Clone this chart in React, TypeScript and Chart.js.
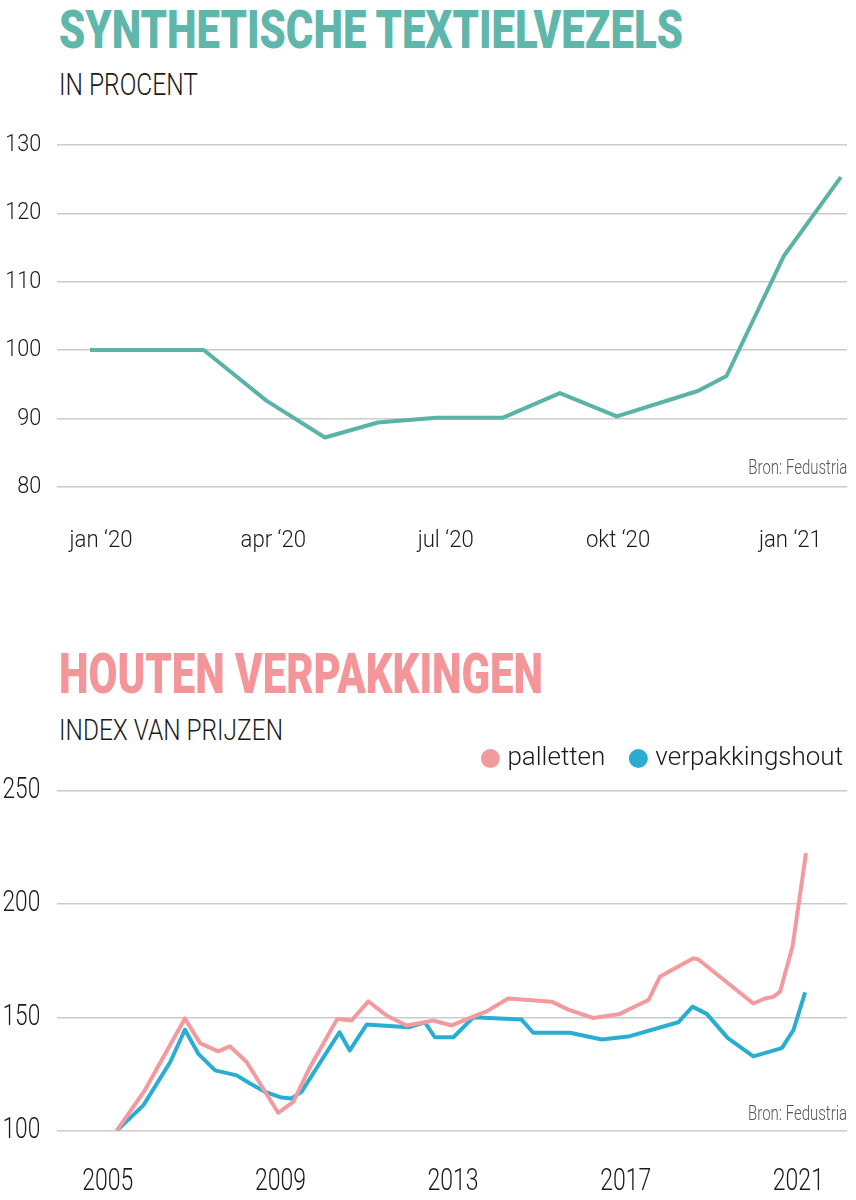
import React, { useEffect, useLayoutEffect, useRef } from "react";
import { Chart, registerables } from "chart.js";

Chart.register(...registerables);

// ---------- data: synthetische textielvezels ----------
const textileMonths = [0, 1.98, 3.07, 4.09, 5.01, 6.03, 7.19, 8.18, 9.17, 10.58, 11.08, 12.08, 13.07];
const textileValues = [100, 100, 92.6, 87.2, 89.4, 90.1, 90.1, 93.7, 90.3, 94.0, 96.2, 113.8, 125.3];
const textileTickMonths = [0, 3, 6, 9, 12];
const textileTickLabels = ["jan \u201820", "apr \u201820", "jul \u201820", "okt \u201820", "jan \u201821"];
const textileYTicks = [80, 90, 100, 110, 120, 130];

// ---------- data: houten verpakkingen ----------
const palletYears = [
  2005.01, 2005.66, 2006.59, 2006.94, 2007.36, 2007.63, 2008.02, 2008.75, 2009.1, 2009.49,
  2010.12, 2010.45, 2010.84, 2011.27, 2011.73, 2012.15, 2012.34, 2012.77, 2013.27, 2013.58,
  2014.08, 2015.09, 2015.47, 2016.05, 2016.67, 2016.98, 2017.33, 2017.6, 2018.37, 2018.48,
  2019.76, 2020.03, 2020.22, 2020.38, 2020.67, 2020.98,
];
const palletValues = [
  100, 117.8, 149.5, 138.6, 135, 137.2, 130.3, 107.9, 112.7, 128.1,
  149.3, 148.6, 157, 150.7, 146.4, 147.8, 148.6, 146.4, 150.3, 152.6,
  158.3, 156.9, 153.4, 149.7, 151.5, 154.4, 157.6, 168, 176, 175.6,
  156.1, 158.3, 159, 161.3, 181.4, 222.4,
];
const woodYears = [
  2005.01, 2005.63, 2006.25, 2006.59, 2006.9, 2007.29, 2007.79, 2008.1, 2008.45, 2008.83,
  2009.06, 2009.29, 2010.17, 2010.41, 2010.8, 2011.77, 2012.15, 2012.38, 2012.81, 2013.27,
  2014.39, 2014.66, 2015.51, 2016.25, 2016.86, 2018.02, 2018.35, 2018.68, 2019.17, 2019.76,
  2020.42, 2020.69, 2020.96,
];
const woodValues = [
  100, 111.3, 130.3, 144.5, 133.9, 126.6, 124.4, 120.8, 117.1, 114.6,
  114.2, 117.1, 143.4, 135.4, 146.8, 145.6, 147.8, 141.2, 141.2, 150,
  149, 143.2, 143.2, 140.2, 141.5, 147.8, 154.7, 151.5, 140.8, 132.8,
  136.4, 144.4, 161,
];
const woodSeriesNames = ["palletten", "verpakkingshout"];
const woodTickYears = [2005, 2009, 2013, 2017, 2021];
const woodYTicks = [100, 150, 200, 250];

// ---------- styles ----------
const TEAL_TITLE = "#5fb7ab";
const TEAL_LINE = "#5ab3a6";
const PINK_TITLE = "#f4959a";
const PINK_LINE = "#f29a9e";
const BLUE_LINE = "#2aadd2";
const GRID = "#cbcbcb";
const INK = "#1a1a1a";
const HEAD_FONT = "Roboto, 'DejaVu Sans', sans-serif";
// "FitcondNN" is a marker (not an installed face): text in that font is drawn
// horizontally condensed to NN % by the plugin below, falling back to Roboto.
const condFont = (pct: number) => `Fitcond${pct}, Roboto, sans-serif`;

const condensedText = {
  id: "condensedText",
  beforeInit(chart: any) {
    const ctx: any = chart.ctx;
    if (ctx.__condPatched) return;
    const orig = ctx.fillText;
    ctx.fillText = function (text: string, x: number, y: number, maxWidth?: number) {
      const m = /Fitcond(\d+)/.exec(this.font || "");
      if (!m) {
        return maxWidth === undefined ? orig.call(this, text, x, y) : orig.call(this, text, x, y, maxWidth);
      }
      const k = Number(m[1]) / 100;
      this.save();
      this.translate(x, y);
      this.scale(k, 1);
      orig.call(this, text, 0, 0);
      this.restore();
    };
    ctx.__condPatched = true;
  },
};

type FitProps = {
  text: string;
  top: number;
  width: number;
  size: number;
  weight: number;
  color: string;
  left?: number;
  right?: number;
};

function FitText({ text, top, width, size, weight, color, left, right }: FitProps) {
  const ref = useRef<HTMLSpanElement>(null);
  useLayoutEffect(() => {
    const el = ref.current;
    if (!el) return;
    el.style.transform = "none";
    const w = el.getBoundingClientRect().width;
    if (w > 0) el.style.transform = `scaleX(${width / w})`;
  }, [text, width]);
  const style: React.CSSProperties = {
    position: "absolute",
    top,
    fontSize: size,
    fontWeight: weight,
    color,
    fontFamily: HEAD_FONT,
    lineHeight: 1,
    whiteSpace: "nowrap",
    transformOrigin: right !== undefined ? "right top" : "left top",
  };
  if (right !== undefined) style.right = 856 - right;
  else style.left = left;
  return (
    <span ref={ref} style={style}>
      {text}
    </span>
  );
}

function TextileChart() {
  const ref = useRef<HTMLCanvasElement>(null);
  useEffect(() => {
    const canvas = ref.current;
    if (!canvas) return;
    const chart = new Chart(canvas, {
      type: "line",
      data: {
        datasets: [
          {
            label: "synthetische textielvezels",
            data: textileMonths.map((m, i) => ({ x: m, y: textileValues[i] })),
            borderColor: TEAL_LINE,
            borderWidth: 4,
            pointRadius: 0,
            tension: 0,
            borderJoinStyle: "round",
            fill: false,
          },
        ],
      },
      options: {
        animation: false,
        responsive: false,
        devicePixelRatio: 1,
        events: [],
        layout: { padding: { top: 35, right: 9, left: 0, bottom: 0 } },
        plugins: { legend: { display: false }, tooltip: { enabled: false } },
        scales: {
          x: {
            type: "linear",
            min: -0.569,
            max: 13.177,
            afterBuildTicks: (s: any) => {
              s.ticks = textileTickMonths.map((v) => ({ value: v }));
            },
            afterFit: (s: any) => {
              s.height = 83.3;
              s.paddingLeft = 0;
              s.paddingRight = 0;
            },
            ticks: {
              autoSkip: false,
              maxRotation: 0,
              labelOffset: 11,
              padding: 39,
              color: INK,
              font: { family: condFont(90), size: 24.6, weight: "300" },
              callback: (v: any) => {
                const i = textileTickMonths.indexOf(Number(v));
                return i >= 0 ? textileTickLabels[i] : "";
              },
            },
            grid: { display: false, drawTicks: false },
            border: { display: false },
          },
          y: {
            min: 80,
            max: 130,
            afterBuildTicks: (s: any) => {
              s.ticks = textileYTicks.map((v) => ({ value: v }));
            },
            afterFit: (s: any) => {
              s.width = 57.3;
              s.paddingTop = 0;
              s.paddingBottom = 0;
            },
            ticks: {
              padding: 16,
              color: INK,
              font: { family: condFont(88), size: 24.6, weight: "300" },
              callback: (v: any) => String(v),
            },
            grid: { color: GRID, lineWidth: 1.5, drawTicks: false },
            border: { display: false },
          },
        },
      },
      plugins: [condensedText],
    });
    return () => chart.destroy();
  }, []);
  return (
    <canvas
      ref={ref}
      width={856}
      height={460}
      style={{ position: "absolute", left: 0, top: 110, width: 856, height: 460 }}
    />
  );
}

const legendGap = {
  id: "legendGap",
  beforeLayout(chart: any) {
    const lg = chart.legend;
    if (!lg || lg.__gapPatched) return;
    const fit = lg.fit.bind(lg);
    lg.fit = () => {
      fit();
      lg.height += 9;
    };
    lg.__gapPatched = true;
  },
};

function WoodChart() {
  const ref = useRef<HTMLCanvasElement>(null);
  useEffect(() => {
    const canvas = ref.current;
    if (!canvas) return;
    const chart = new Chart(canvas, {
      type: "line",
      data: {
        datasets: [
          {
            label: woodSeriesNames[0],
            data: palletYears.map((x, i) => ({ x, y: palletValues[i] })),
            borderColor: PINK_LINE,
            backgroundColor: PINK_LINE,
            borderWidth: 4,
            pointRadius: 0,
            tension: 0,
            borderJoinStyle: "round",
            fill: false,
          },
          {
            label: woodSeriesNames[1],
            data: woodYears.map((x, i) => ({ x, y: woodValues[i] })),
            borderColor: BLUE_LINE,
            backgroundColor: BLUE_LINE,
            borderWidth: 4,
            pointRadius: 0,
            tension: 0,
            borderJoinStyle: "round",
            fill: false,
          },
        ],
      },
      options: {
        animation: false,
        responsive: false,
        devicePixelRatio: 1,
        events: [],
        layout: { padding: { top: 16.5, right: 0, left: 0, bottom: 0 } },
        plugins: {
          tooltip: { enabled: false },
          legend: {
            display: true,
            position: "top",
            align: "end",
            labels: {
              usePointStyle: true,
              pointStyle: "circle",
              boxWidth: 8,
              boxHeight: 10.6,
              padding: 29,
              color: INK,
              font: { family: HEAD_FONT, size: 26, weight: "300" },
            },
          },
        },
        scales: {
          x: {
            type: "linear",
            min: 2003.633,
            max: 2021.93,
            afterBuildTicks: (s: any) => {
              s.ticks = woodTickYears.map((v) => ({ value: v }));
            },
            afterFit: (s: any) => {
              s.height = 69.3;
              s.paddingLeft = 0;
              s.paddingRight = 0;
            },
            ticks: {
              autoSkip: false,
              maxRotation: 0,
              labelOffset: -8.5,
              padding: 32,
              color: INK,
              font: { family: condFont(72), size: 32, weight: "300" },
              callback: (v: any) => String(v),
            },
            grid: { display: false, drawTicks: false },
            border: { display: false },
          },
          y: {
            min: 100,
            max: 250,
            afterBuildTicks: (s: any) => {
              s.ticks = woodYTicks.map((v) => ({ value: v }));
            },
            afterFit: (s: any) => {
              s.width = 57.3;
              s.paddingTop = 0;
              s.paddingBottom = 0;
            },
            ticks: {
              padding: 17,
              color: INK,
              font: { family: condFont(77), size: 29.5, weight: "300" },
              callback: (v: any) => String(v),
            },
            grid: { color: GRID, lineWidth: 1.5, drawTicks: false },
            border: { display: false },
          },
          yRight: {
            position: "right",
            min: 100,
            max: 250,
            afterFit: (s: any) => {
              s.width = 25;
              s.paddingTop = 0;
              s.paddingBottom = 0;
            },
            ticks: { display: false },
            grid: { display: false, drawTicks: false },
            border: { display: false },
          },
        },
      },
      plugins: [legendGap, condensedText],
    });
    return () => chart.destroy();
  }, []);
  return (
    <canvas
      ref={ref}
      width={872}
      height={500}
      style={{ position: "absolute", left: 0, top: 700, width: 872, height: 500 }}
    />
  );
}

export default function App() {
  return (
    <div
      style={{
        position: "relative",
        width: 856,
        height: 1200,
        overflow: "hidden",
        background: "#ffffff",
      }}
    >
      <style>{`html,body{margin:0;padding:0;background:#fff;overflow:hidden}`}</style>
      <FitText text="SYNTHETISCHE TEXTIELVEZELS" left={59} top={3} width={624} size={53.5} weight={900} color={TEAL_TITLE} />
      <FitText text="IN PROCENT" left={59} top={69} width={139} size={31} weight={300} color={INK} />
      <TextileChart />
      <FitText text="Bron: Fedustria" right={847} top={458} width={99} size={19.3} weight={300} color="#555555" />

      <FitText text="HOUTEN VERPAKKINGEN" left={59} top={645.7} width={484} size={56} weight={900} color={PINK_TITLE} />
      <FitText text="INDEX VAN PRIJZEN" left={59} top={716} width={224} size={29} weight={300} color={INK} />
      <WoodChart />
      <FitText text="Bron: Fedustria" right={847} top={1102.5} width={99} size={20} weight={300} color="#555555" />
    </div>
  );
}
